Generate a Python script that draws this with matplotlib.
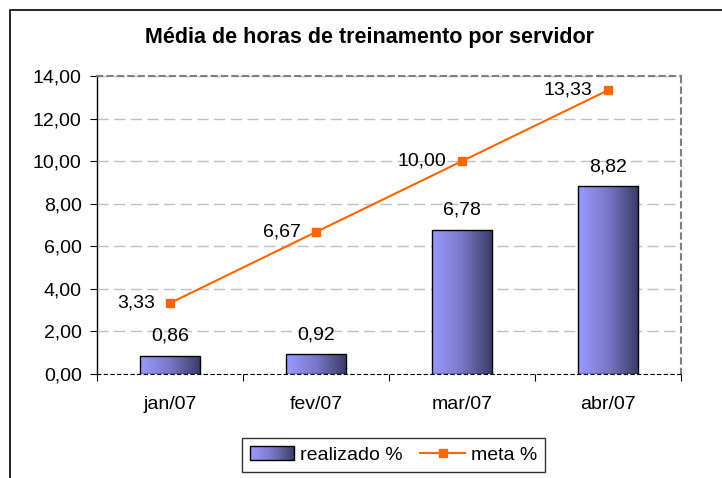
# Média de horas de treinamento por servidor - barras com gradiente + linha de meta
import numpy as np
import matplotlib.pyplot as plt
from matplotlib.colors import LinearSegmentedColormap
from matplotlib.patches import Rectangle, Patch
from matplotlib.lines import Line2D
from matplotlib.legend_handler import HandlerBase
from matplotlib.ticker import FuncFormatter, FixedLocator

plt.rcParams['font.family'] = ['Liberation Sans', 'DejaVu Sans']

# dados
meses = ['jan/07', 'fev/07', 'mar/07', 'abr/07']
realizado = [0.86, 0.92, 6.78, 8.82]
meta = [3.33, 6.67, 10.00, 13.33]

titulo = 'Média de horas de treinamento por servidor'
cor_meta = '#FF6600'
grad = LinearSegmentedColormap.from_list('grad', ['#9A9AFF', '#7878C8', '#3C3C68'])


def virgula(v, pos=None):
    return f'{v:.2f}'.replace('.', ',')


class HandlerGradiente(HandlerBase):
    # retângulo com gradiente na legenda
    def create_artists(self, legend, orig_handle, xdescent, ydescent,
                       width, height, fontsize, trans):
        n = 40
        arts = []
        for i in range(n):
            arts.append(Rectangle((-xdescent + width * i / n, -ydescent), width / n + 0.3, height,
                                  facecolor=grad(i / (n - 1)), edgecolor='none', transform=trans))
        arts.append(Rectangle((-xdescent, -ydescent), width, height, fill=False,
                              edgecolor='black', lw=1, transform=trans))
        return arts


fig = plt.figure(figsize=(7.22, 4.78), dpi=100)
ax = fig.add_axes([0.1343, 0.2176, 0.8089, 0.6234])

x = np.arange(len(meses))
largura = 0.41

barras = ax.bar(x, realizado, width=largura, facecolor='none', edgecolor='black', lw=1, zorder=3)
gradiente = np.linspace(0, 1, 256).reshape(1, -1)
for b in barras:
    x0, y0 = b.get_x(), b.get_y()
    im = ax.imshow(gradiente, cmap=grad, aspect='auto', zorder=2,
                   extent=(x0, x0 + b.get_width(), y0, y0 + b.get_height()))
    im.set_clip_path(b)

ax.plot(x, meta, color=cor_meta, lw=1.5, marker='s', markersize=6, zorder=4)

fs = 14
for xi, v in zip(x, realizado):
    ax.annotate(virgula(v), (xi, v), xytext=(0, 8), textcoords='offset points',
                ha='center', va='bottom', fontsize=fs)
for xi, v in zip(x, meta):
    ax.annotate(virgula(v), (xi, v), xytext=(-11, 0), textcoords='offset points',
                ha='right', va='center', fontsize=fs)

ax.set_xlim(-0.5, 3.5)
ax.set_ylim(0, 14)
ax.set_yticks(np.arange(0, 15, 2))
ax.yaxis.set_major_formatter(FuncFormatter(virgula))
ax.grid(axis='y', color='#C0C0C0', linestyle=(0, (8, 4)), lw=1, zorder=0)

ax.xaxis.set_major_locator(FixedLocator([-0.5, 0.5, 1.5, 2.5, 3.5]))
ax.set_xticklabels([])
ax.set_xticks(x, minor=True)
ax.set_xticklabels(meses, minor=True)
ax.tick_params(axis='x', which='minor', length=0, pad=16, labelsize=fs)
ax.tick_params(axis='x', which='major', length=5, direction='out', color='black')
ax.tick_params(axis='y', length=5, direction='out', pad=6, labelsize=fs)

for lado in ['top', 'right']:
    ax.spines[lado].set_color('#808080')
    ax.spines[lado].set_linestyle((0, (2.5, 2.5)))
    ax.spines[lado].set_linewidth(1.5)
ax.spines['bottom'].set_color('black')
ax.spines['bottom'].set_linestyle((0, (3, 3)))
ax.spines['left'].set_color('black')
ax.spines['left'].set_linewidth(1)

fig.text(0.512, 0.922, titulo, ha='center', va='center', fontsize=15.5, fontweight='bold')

# moldura externa (cortada à direita e embaixo)
fig.patches.append(Rectangle((0.0139, -0.2), 1.2, 0.2 + 0.979, transform=fig.transFigure,
                             fill=False, edgecolor='black', lw=1.2))

proxy = Patch()
linha = Line2D([], [], color=cor_meta, lw=1.5, marker='s', markersize=6)
leg = fig.legend([proxy, linha], ['realizado %', 'meta %'], handler_map={proxy: HandlerGradiente()},
                 loc='center', bbox_to_anchor=(0.545, 0.048), ncol=2, fontsize=fs,
                 frameon=True, fancybox=False, edgecolor='black', handlelength=2.3,
                 handletextpad=0.3, columnspacing=0.9, borderpad=0.4, numpoints=1)
leg.get_frame().set_linewidth(1)

fig.savefig('out.png', dpi=100)
